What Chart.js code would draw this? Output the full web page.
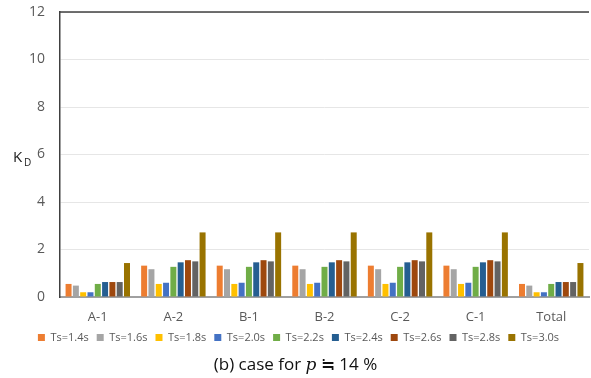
<!DOCTYPE html>
<html lang="en">
<head>
<meta charset="UTF-8" />
<title>KD by section</title>
<script src="https://cdn.jsdelivr.net/npm/chart.js@4.4.1/dist/chart.umd.min.js"></script>
<style>
  html, body { margin: 0; padding: 0; background: #fff; }
  #wrap { position: relative; width: 591px; height: 378px; }
  #caption {
    position: absolute; left: 0; top: 352px; width: 591px; text-align: center;
    font-family: "Open Sans", "Noto Sans", sans-serif; font-size: 17px; color: #111;
  }
  #caption i { font-family: "DejaVu Serif", "Liberation Serif", serif; }
</style>
</head>
<body>
<div id="wrap">
  <canvas id="chart" width="591" height="378"></canvas>
  <div id="caption">(b) case for <i>p</i> ≒ 14 %</div>
</div>
<script>
const sections = ['A-1', 'A-2', 'B-1', 'B-2', 'C-2', 'C-1', 'Total'];
const yTicks = [0, 2, 4, 6, 8, 10, 12];

const ts14 = [0.55, 1.32, 1.32, 1.32, 1.32, 1.32, 0.55];
const ts16 = [0.48, 1.17, 1.17, 1.17, 1.17, 1.17, 0.48];
const ts18 = [0.20, 0.55, 0.55, 0.55, 0.55, 0.55, 0.20];
const ts20 = [0.20, 0.60, 0.60, 0.60, 0.60, 0.60, 0.20];
const ts22 = [0.55, 1.27, 1.27, 1.27, 1.27, 1.27, 0.55];
const ts24 = [0.63, 1.46, 1.46, 1.46, 1.46, 1.46, 0.63];
const ts26 = [0.63, 1.55, 1.55, 1.55, 1.55, 1.55, 0.63];
const ts28 = [0.63, 1.50, 1.50, 1.50, 1.50, 1.50, 0.63];
const ts30 = [1.43, 2.72, 2.72, 2.72, 2.72, 2.72, 1.43];

const series = [
  ['Ts=1.4s', ts14, '#ED7D31'],
  ['Ts=1.6s', ts16, '#A5A5A5'],
  ['Ts=1.8s', ts18, '#FFC000'],
  ['Ts=2.0s', ts20, '#4472C4'],
  ['Ts=2.2s', ts22, '#70AD47'],
  ['Ts=2.4s', ts24, '#255E91'],
  ['Ts=2.6s', ts26, '#9E480E'],
  ['Ts=2.8s', ts28, '#636363'],
  ['Ts=3.0s', ts30, '#997300']
];

const font = '"Open Sans", "Noto Sans", sans-serif';

// frame line on top of the plot area + the K_D axis label
const extras = {
  id: 'extras',
  afterDraw(chart) {
    const { ctx, chartArea: a } = chart;
    ctx.save();
    ctx.strokeStyle = '#404040';
    ctx.lineWidth = 1.5;
    ctx.beginPath();
    ctx.moveTo(a.left, a.top);
    ctx.lineTo(a.right, a.top);
    ctx.stroke();

    ctx.fillStyle = '#222';
    ctx.textBaseline = 'alphabetic';
    ctx.font = '15px ' + font;
    ctx.fillText('K', 13, 162);
    ctx.font = '10px ' + font;
    ctx.fillText('D', 24, 166);
    ctx.restore();
  }
};

new Chart(document.getElementById('chart'), {
  type: 'bar',
  data: {
    labels: sections,
    datasets: series.map(([label, data, color]) => ({
      label, data,
      backgroundColor: color,
      borderWidth: 0,
      categoryPercentage: 0.87,
      barPercentage: 0.82
    }))
  },
  options: {
    responsive: false,
    animation: false,
    layout: { padding: { top: 12, right: 2, bottom: 25, left: 8 } },
    plugins: {
      tooltip: { enabled: false },
      legend: {
        position: 'bottom',
        labels: {
          boxWidth: 7, boxHeight: 7, padding: 8,
          color: '#595959',
          font: { family: font, size: 11 }
        }
      }
    },
    scales: {
      x: {
        afterFit(s) { s.height = 27; },
        grid: { display: false },
        border: { color: '#a0a0a0', width: 2 },
        ticks: { color: '#595959', font: { family: font, size: 13 }, padding: 4 }
      },
      y: {
        min: 0, max: 12,
        afterFit(s) { s.width = 52; s.paddingTop = 0; s.paddingBottom = 0; },
        afterBuildTicks(s) { s.ticks = yTicks.map(v => ({ value: v })); },
        grid: { color: '#e6e6e6', drawTicks: false },
        border: { color: '#404040', width: 1.5 },
        ticks: { color: '#595959', font: { family: font, size: 14 }, padding: 15 }
      }
    }
  },
  plugins: [extras]
});
</script>
</body>
</html>
